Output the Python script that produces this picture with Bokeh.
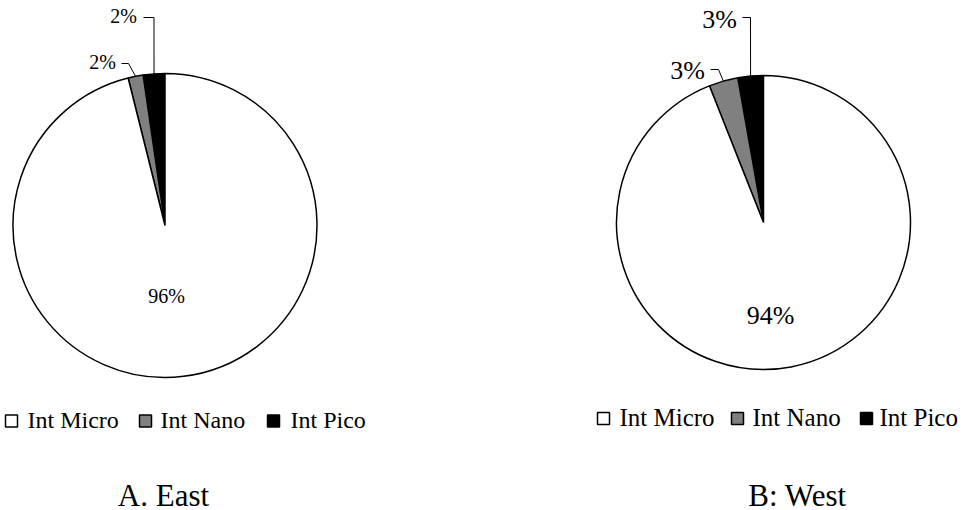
import math
from bokeh.plotting import figure
from bokeh.models import Range1d
from bokeh.core.properties import value
from bokeh.embed import file_html
from bokeh.resources import INLINE

# ---- data ----
categories = ["Int Micro", "Int Nano", "Int Pico"]
east_values = [96.1, 1.6, 2.3]
west_values = [94.0, 3.2, 2.8]
panel_titles = ["A. East", "B: West"]
colors = ["#ffffff", "#808080", "#000000"]

W, H = 966, 510
FONT = value("'Liberation Serif', 'Times New Roman', serif")
TDY = 8  # baseline correction for the text renderer

p = figure(width=W, height=H, output_backend="svg", toolbar_location=None,
           x_range=Range1d(0, W), y_range=Range1d(0, H),
           x_axis_location=None, y_axis_location=None, min_border=0)
p.grid.visible = False
p.outline_line_color = None
p.background_fill_color = "white"
p.border_fill_color = "white"


def X(px):
    return px


def Y(py):
    return H - py


def TY(py):
    return H - (py - TDY)


def draw_pie(vals, cx, cy, r, lab_font, big_lab, small_labs, leg, title):
    micro, nano, pico = vals
    total = sum(vals)
    # going anticlockwise from 12 o'clock: Pico, Nano, then Micro
    order = [(2, pico), (1, nano), (0, micro)]
    a = math.pi / 2
    mids = {}
    for idx, v in order:
        da = 2 * math.pi * v / total
        p.wedge(x=[X(cx)], y=[Y(cy)], radius=r, radius_units="screen",
                start_angle=a, end_angle=a + da,
                fill_color=colors[idx], line_color="black", line_width=1.5)
        mids[idx] = a + da / 2
        a += da
    bx, by = big_lab
    p.text(x=[X(bx)], y=[TY(by)], text=[f"{micro:.0f}%"], text_font=FONT,
           text_font_size=f"{lab_font}px", text_align="center",
           text_baseline="alphabetic", text_color="black")
    for idx, (tx, ty, lx0, ly, ex) in small_labs.items():
        v = vals[idx]
        p.text(x=[X(tx)], y=[TY(ty)], text=[f"{v:.0f}%"], text_font=FONT,
               text_font_size=f"{lab_font}px", text_align="center",
               text_baseline="alphabetic", text_color="black")
        ang = mids[idx]
        ax = cx + r * math.cos(ang)
        ay = cy - r * math.sin(ang)
        p.line(x=[X(lx0), X(ex), X(ax)], y=[Y(ly), Y(ly), Y(ay)],
               line_color="black", line_width=1)
    sq_xs, txt_xs, ly, lbase, lfont = leg
    for i, cat in enumerate(categories):
        p.scatter(x=[X(sq_xs[i])], y=[Y(ly)], marker="square", size=12,
                  fill_color=colors[i], line_color="black", line_width=1.5)
        p.text(x=[X(txt_xs[i])], y=[TY(lbase)], text=[cat], text_font=FONT,
               text_font_size=f"{lfont}px", text_align="left",
               text_baseline="alphabetic", text_color="black")
    t, tx, ty = title
    p.text(x=[X(tx)], y=[TY(ty)], text=[t], text_font=FONT,
           text_font_size="31px", text_align="center",
           text_baseline="alphabetic", text_color="black")


draw_pie(east_values, 164.5, 225, 152, 20, (166, 303),
         {2: (123, 23, 143, 17, 153.5), 1: (102, 69, 121, 63, 128)},
         ([11, 145, 273], [27, 160, 290], 420.5, 427, 24),
         (panel_titles[0], 163, 503))

draw_pie(west_values, 763, 222, 147, 26, (770, 323),
         {2: (719, 27, 742, 17, 750), 1: (687, 78, 710, 69, 718)},
         ([603, 737, 866], [619, 752, 879], 418, 425, 25),
         (panel_titles[1], 797, 503))

open("out.html", "w").write(file_html(p, INLINE))
